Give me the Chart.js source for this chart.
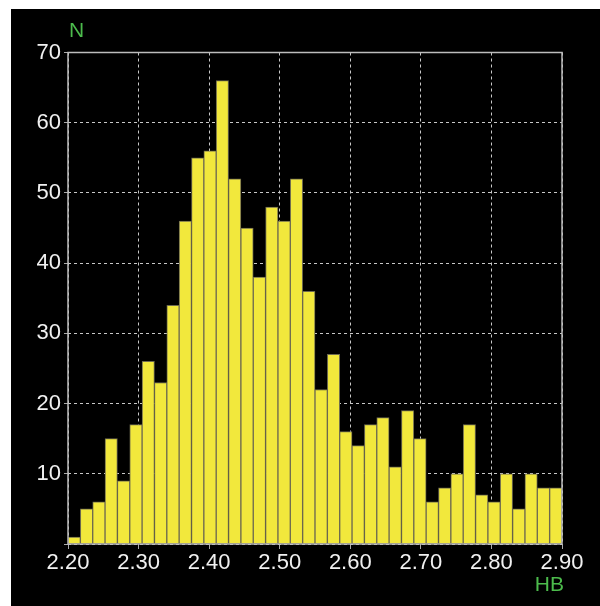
<!DOCTYPE html>
<html>
<head>
<meta charset="utf-8">
<script src="https://cdn.jsdelivr.net/npm/chart.js@4/dist/chart.umd.min.js"></script>
<style>
  html, body { margin: 0; padding: 0; background: #fff; }
  canvas { display: block; }
</style>
</head>
<body>
<canvas id="histChart" width="600" height="606"></canvas>
<script>
// Bin starts (HB), width 0.0175
const bins = ['2.200', '2.218', '2.235', '2.253', '2.270', '2.288', '2.305', '2.323', '2.340', '2.358',
              '2.375', '2.393', '2.410', '2.428', '2.445', '2.463', '2.480', '2.498', '2.515', '2.533',
              '2.550', '2.568', '2.585', '2.603', '2.620', '2.638', '2.655', '2.673', '2.690', '2.708',
              '2.725', '2.743', '2.760', '2.778', '2.795', '2.813', '2.830', '2.848', '2.865', '2.883'];
// Counts (N)
const counts = [1, 5, 6, 15, 9, 17, 26, 23, 34, 46,
                55, 56, 66, 52, 45, 38, 48, 46, 52, 36,
                22, 27, 16, 14, 17, 18, 11, 19, 15, 6,
                8, 10, 17, 7, 6, 10, 5, 10, 8, 8];
const xMin = 2.2, xMax = 2.9, xStep = 0.1;
const yMin = 0, yMax = 70, yStep = 10;
const yTitle = 'N';
const xTitle = 'HB';

const font = "'Liberation Sans', Arial, Helvetica, sans-serif";
const green = '#4cbb4c';

// -------------------- Background + frame + axis titles --------------------
const decor = {
  id: 'decor',
  beforeDraw(c) {
    const ctx = c.ctx;
    ctx.save();
    ctx.fillStyle = '#000';
    ctx.fillRect(11, 9, c.width - 11, c.height - 9);
    ctx.restore();
  },
  afterDraw(c) {
    const { ctx, chartArea: a } = c;
    ctx.save();
    ctx.strokeStyle = '#bdbdbd';
    ctx.lineWidth = 1.5;
    ctx.strokeRect(a.left, a.top, a.right - a.left, a.bottom - a.top);
    ctx.fillStyle = green;
    ctx.font = '21px ' + font;
    ctx.textBaseline = 'alphabetic';
    ctx.textAlign = 'left';
    ctx.fillText(yTitle, a.left + 1, 37);
    ctx.textAlign = 'right';
    ctx.fillText(xTitle, a.right + 2, 591);
    ctx.restore();
  }
};

const ctx = document.getElementById('histChart').getContext('2d');
new Chart(ctx, {
  type: 'bar',
  data: {
    labels: bins,
    datasets: [{
      data: counts,
      backgroundColor: '#f2e83c',
      borderColor: '#6e6a50',
      borderWidth: 1,
      barPercentage: 1,
      categoryPercentage: 1,
      xAxisID: 'x',
      yAxisID: 'y'
    }]
  },
  options: {
    responsive: false,
    animation: false,
    layout: { padding: { left: 11, top: 52.5, right: 38, bottom: 0 } },
    plugins: { legend: { display: false }, tooltip: { enabled: false } },
    scales: {
      x: { type: 'category', display: false, offset: true },
      x2: {
        type: 'linear',
        position: 'bottom',
        min: xMin,
        max: xMax,
        offset: false,
        afterFit(s) { s.height = 62; },
        ticks: {
          stepSize: xStep,
          color: '#f0f0f0',
          font: { size: 22, family: font },
          padding: 1,
          maxRotation: 0,
          callback: v => v.toFixed(2)
        },
        grid: { offset: false, color: '#c8c8c8', lineWidth: 1, tickLength: 5, tickColor: '#aaa' },
        border: { display: false, dash: [3, 3] }
      },
      y: {
        min: yMin,
        max: yMax,
        afterFit(s) { s.width = 57; },
        ticks: {
          stepSize: yStep,
          color: '#f0f0f0',
          font: { size: 22, family: font },
          padding: 3,
          callback: v => (v === 0 ? '' : v)
        },
        grid: { color: '#c8c8c8', lineWidth: 1, tickLength: 4, tickColor: '#aaa' },
        border: { display: false, dash: [3, 3] }
      }
    }
  },
  plugins: [decor]
});
</script>
</body>
</html>
